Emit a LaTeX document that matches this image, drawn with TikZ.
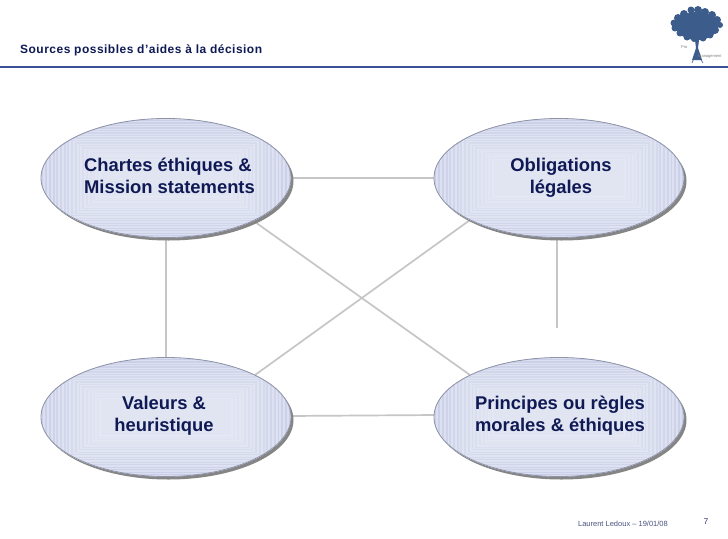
\documentclass[tikz,border=0pt]{standalone}
\usepackage{fontspec}
\setmainfont{Liberation Sans}
\usetikzlibrary{shapes.geometric}
\definecolor{navy}{HTML}{0F1A55}
\definecolor{rulecol}{HTML}{3A5199}
\definecolor{linkcol}{HTML}{C6C6C6}
\definecolor{edgecol}{HTML}{8E93A8}
\definecolor{shadowcol}{HTML}{858585}
\definecolor{treecol}{HTML}{3C5C8C}
\definecolor{stripeA}{HTML}{C8CEE7}
\definecolor{stripeB}{HTML}{DADEF0}
\definecolor{stripeC}{HTML}{E6E9F4}
\tikzset{
  x=1pt,y=-1pt,
  link/.style={draw=linkcol,line width=1.7pt},
  bubbleshape/.style={ellipse,minimum width=250pt,minimum height=119pt,inner sep=0pt,outer sep=0pt},
  bubblelabel/.style={text=navy,font=\fontsize{18.4}{22}\selectfont\bfseries,inner sep=0pt},
}
\newcommand{\bubble}[3]{%
  \fill[shadowcol] (#1+2.5,#2+3) ellipse [x radius=125,y radius=59.5];
  \begin{scope}
    \clip (#1,#2) ellipse [x radius=125,y radius=59.5];
    \fill[stripeA] (#1-130,#2-65) rectangle (#1+130,#2+65);
    \foreach \k in {0,...,17}{
      \pgfmathsetmacro{\dx}{130-\k*3.7}
      \pgfmathsetmacro{\dy}{62-\k*2.5}
      \pgfmathtruncatemacro{\mixv}{100-\k*5}
      \fill[stripeB!\mixv!stripeC] (#1-\dx,#2-\dy) rectangle (#1+\dx,#2+\dy);
      \pgfmathsetmacro{\ex}{\dx-1.85}
      \pgfmathsetmacro{\ey}{\dy-1.25}
      \fill[stripeA!\mixv!stripeC] (#1-\ex,#2-\ey) rectangle (#1+\ex,#2+\ey);
    }
  \end{scope}
  \node[bubbleshape,draw=edgecol,line width=.8pt] (#3) at (#1,#2) {};
}
\begin{document}
\begin{tikzpicture}
\useasboundingbox (0,0) rectangle (728,538);
\fill[white] (0,0) rectangle (728,538);

% header
\node[anchor=west,inner sep=0pt,text=navy,font=\fontsize{12}{14}\selectfont\bfseries\addfontfeatures{LetterSpace=4}] (title) at (20,50.5) {Sources possibles d’aides à la décision};
\coordinate (ruleL) at (0,67);
\coordinate (ruleR) at (728,67);
\draw[rulecol,line width=1.5pt] (ruleL) -- (ruleR);

% logo
\fill[treecol] (697,26) ellipse [x radius=21,y radius=14];
\foreach \a/\b/\c in {674/23/3.5,678/18/4,684/14/4,691/10/3.5,698/10/4,705/12/4,712/15/4,717/20/4,720/25/3,715/30/4,710/35/3.5,703/38/3.5,694/39/3,687/37/3.5,680/33/3.5,675/28/3.5}{
  \fill[treecol] (\a,\b) circle [radius=\c];
}
\fill[treecol] (695,40) -- (699,40) -- (698,48) -- (702,60) -- (692,60) -- (696,48) -- cycle;
\draw[treecol,line width=.6pt] (694,58) -- (692,63) (700,58) -- (703,63);
\node[anchor=west,inner sep=0pt,text=gray,font=\fontsize{4}{5}\selectfont] (logoA) at (681,47) {Pro};
\node[anchor=west,inner sep=0pt,text=gray,font=\fontsize{4}{5}\selectfont] (logoB) at (698,57) {Management};

% connector ends
\coordinate (d1a) at (255,222);
\coordinate (d1b) at (470,375);
\coordinate (d2a) at (470,220);
\coordinate (d2b) at (255,375);
\coordinate (obEnd) at (557,328);
\draw[link] (290,178) -- (436,178);
\draw[link] (166,235) -- (166,360);
\draw[link] (290,416) -- (436,415);
\draw[link] (d2a) -- (d2b);
\draw[link] (d1a) -- (d1b);
\draw[link] (557,235) -- (obEnd);

% ovals
\bubble{166}{178}{chartes}
\bubble{559}{178}{obligations}
\bubble{166}{417}{valeurs}
\bubble{559}{417}{principes}

\node[bubblelabel,align=left] (chartesL) at (169.5,176) {Chartes éthiques \&\\Mission statements};
\node[bubblelabel,align=center] (obligationsL) at (561,178) {Obligations\\légales};
\node[bubblelabel,align=center] (valeursL) at (164,416) {Valeurs \&\\heuristique};
\node[bubblelabel,align=left] (principesL) at (560,416) {Principes ou règles\\morales \& éthiques};

% footer
\node[anchor=east,inner sep=0pt,text=navy!75,font=\fontsize{7.5}{9}\selectfont] (author) at (668,523.5) {Laurent Ledoux – 19/01/08};
\node[inner sep=0pt,text=navy!85,font=\fontsize{8.5}{10}\selectfont] (page) at (706,521.5) {7};
\end{tikzpicture}
\end{document}
